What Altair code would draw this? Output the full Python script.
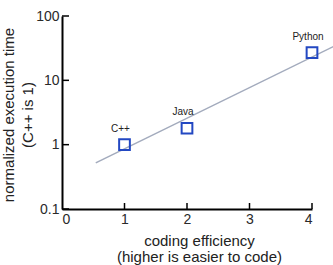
import altair as alt
import pandas as pd

# Languages and their measured values
languages = ["C++", "Java", "Python"]
efficiency = [1, 2, 4]
exec_time = [1.0, 1.8, 27.0]

# Trend line end points
trend_x = [0.54, 4.4]
trend_y = [0.52, 35.7]

# Axis tick values
x_ticks = [0, 1, 2, 3, 4]
y_ticks = [0.1, 1, 10, 100]

W, H = 250, 193
FONT = "Liberation Sans"

points = pd.DataFrame({"lang": languages, "eff": efficiency, "t": exec_time})
trend = pd.DataFrame({"eff": trend_x, "t": trend_y})
xt = pd.DataFrame({"eff": x_ticks[1:]})
yt = pd.DataFrame({"t": y_ticks})

xscale = alt.Scale(domain=[0, 4], nice=False, zero=False)
yscale = alt.Scale(type="log", domain=[0.1, 100], nice=False)

xaxis = alt.Axis(
    values=x_ticks, format="d", grid=False, ticks=False, tickSize=0,
    labelPadding=3, labelFontSize=14, labelColor="#2a2a2a", labelFont=FONT,
    domainColor="black", domainWidth=2,
    title=["coding efficiency", "(higher is easier to code)"],
    titleFont=FONT, titleFontSize=15, titleFontWeight="normal", titleColor="#222222",
    titleX=137, titleY=24, titleBaseline="top", titleLineHeight=16.7)
yaxis = alt.Axis(
    values=y_ticks, format="~g", grid=False, ticks=False, tickSize=0,
    labelPadding=3, labelFontSize=14, labelColor="#2a2a2a", labelFont=FONT,
    domainColor="black", domainWidth=2,
    title=["normalized execution time", "(C++ is 1)"],
    titleFont=FONT, titleFontSize=15, titleFontWeight="normal", titleColor="#222222",
    titleX=-61, titleY=H / 2 + 2, titleAngle=-90, titleAlign="center",
    titleBaseline="top", titleLineHeight=19)

X = alt.X("eff:Q", scale=xscale, axis=xaxis)
Y = alt.Y("t:Q", scale=yscale, axis=yaxis)

line = alt.Chart(trend).mark_line(color="#a3abbd", strokeWidth=1.5, clip=False).encode(x=X, y=Y)

# Inward tick marks
ytick_rules = alt.Chart(yt).mark_rule(color="black", strokeWidth=1.5).encode(
    y=Y, x=alt.value(0), x2=alt.value(7),
)
xtick_rules = alt.Chart(xt).mark_rule(color="black", strokeWidth=1.5).encode(
    x=X, y=alt.value(H), y2=alt.value(H - 6),
)

marks = alt.Chart(points).mark_point(
    shape="square", filled=False, size=115, strokeWidth=2, color="#2348c2", opacity=1
).encode(x=X, y=Y)

labels = alt.Chart(points).mark_text(
    font=FONT, fontSize=10, color="#222222", dy=-16, dx=-4
).encode(x=X, y=Y, text="lang:N")

chart = alt.layer(line, ytick_rules, xtick_rules, marks, labels).properties(
    width=W, height=H,
    autosize=alt.AutoSizeParams(type="none"),
    padding={"left": 62, "top": 16, "right": 21, "bottom": 56},
    background="white",
).configure_view(stroke=None)

chart.save("out.html", embed_options={"renderer": "svg", "actions": False})
